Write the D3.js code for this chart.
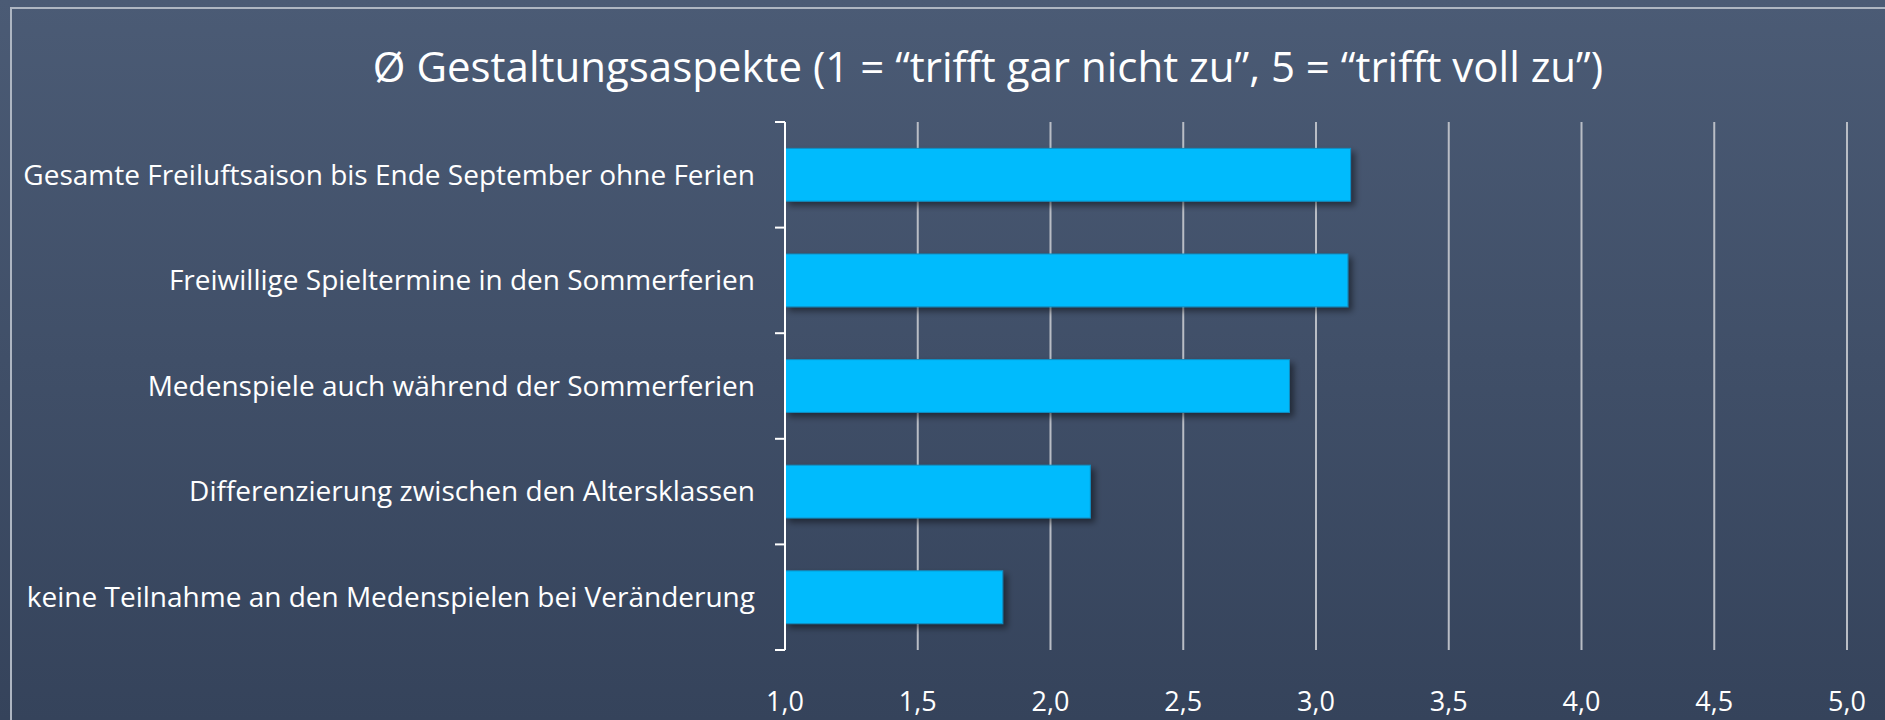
<!DOCTYPE html>
<html>
<head>
<meta charset="utf-8">
<script src="https://cdn.jsdelivr.net/npm/d3@7"></script>
<style>
  html, body { margin: 0; padding: 0; background: #3f4e66; }
  svg { display: block; }
  text { font-family: "Open Sans", "Noto Sans", sans-serif; fill: #ffffff; }
</style>
</head>
<body>
<div id="chart"></div>
<script>
// Data
const categories = [
    "Gesamte Freiluftsaison bis Ende September ohne Ferien",
    "Freiwillige Spieltermine in den Sommerferien",
    "Medenspiele auch während der Sommerferien",
    "Differenzierung zwischen den Altersklassen",
    "keine Teilnahme an den Medenspielen bei Veränderung"
];
const values = [3.13, 3.12, 2.90, 2.15, 1.82];
const xTicks = [1.0, 1.5, 2.0, 2.5, 3.0, 3.5, 4.0, 4.5, 5.0];
const title = "Ø Gestaltungsaspekte (1 = “trifft gar nicht zu”, 5 = “trifft voll zu”)";

const W = 1885, H = 720;
const plot = { left: 785, right: 1847, top: 122, bottom: 650 };

const svg = d3.select("#chart").append("svg")
    .attr("width", W)
    .attr("height", H);

const defs = svg.append("defs");
const grad = defs.append("linearGradient")
    .attr("id", "bg").attr("x1", 0).attr("y1", 0).attr("x2", 0).attr("y2", 1);
grad.append("stop").attr("offset", "0%").attr("stop-color", "#4b5b75");
grad.append("stop").attr("offset", "100%").attr("stop-color", "#35435b");

const shadow = defs.append("filter").attr("id", "shadow")
    .attr("x", "-5%").attr("y", "-20%").attr("width", "115%").attr("height", "160%");
shadow.append("feDropShadow")
    .attr("dx", 4).attr("dy", 4).attr("stdDeviation", 3)
    .attr("flood-color", "#000").attr("flood-opacity", 0.45);

// background + frame
svg.append("rect").attr("width", W).attr("height", H).attr("fill", "url(#bg)");
svg.append("rect")
    .attr("x", 11).attr("y", 8).attr("width", W).attr("height", H)
    .attr("fill", "none").attr("stroke", "#aeb6c2").attr("stroke-width", 2);

// Scales
const x = d3.scaleLinear().domain([1, 5]).range([plot.left, plot.right]);
const y = d3.scaleBand()
    .domain(categories)
    .range([plot.top, plot.bottom])
    .paddingInner(0.5)
    .paddingOuter(0.25);

// Gridlines
svg.append("g")
    .selectAll("line")
    .data(xTicks.slice(1))
    .join("line")
    .attr("x1", d => x(d)).attr("x2", d => x(d))
    .attr("y1", plot.top).attr("y2", plot.bottom)
    .attr("stroke", "#b9bdc5").attr("stroke-width", 2);

// Bars
svg.append("g")
    .selectAll("rect")
    .data(values)
    .join("rect")
    .attr("x", x(1))
    .attr("y", (d, i) => y(categories[i]))
    .attr("width", d => x(d) - x(1))
    .attr("height", y.bandwidth())
    .attr("fill", "#05bbfd")
    .attr("stroke", "#0d8fc4")
    .attr("stroke-width", 1)
    .attr("filter", "url(#shadow)");

// Y axis line with ticks between categories
const step = y.step();
const bounds = d3.range(categories.length + 1).map(i => plot.top + i * step);
const yAxis = svg.append("g");
yAxis.append("line")
    .attr("x1", plot.left).attr("x2", plot.left)
    .attr("y1", plot.top).attr("y2", plot.bottom)
    .attr("stroke", "#ffffff").attr("stroke-width", 2);
yAxis.selectAll("line.tick")
    .data(bounds)
    .join("line")
    .attr("class", "tick")
    .attr("x1", plot.left - 10).attr("x2", plot.left)
    .attr("y1", d => d).attr("y2", d => d)
    .attr("stroke", "#ffffff").attr("stroke-width", 2);

// Category labels
svg.append("g")
    .selectAll("text")
    .data(categories)
    .join("text")
    .attr("x", plot.left - 30)
    .attr("y", d => y(d) + y.bandwidth() / 2)
    .attr("dy", "0.35em")
    .attr("text-anchor", "end")
    .style("font-size", "28px")
    .text(d => d);

// X tick labels
const fmt = d => d3.format(".1f")(d).replace(".", ",");
svg.append("g")
    .selectAll("text")
    .data(xTicks)
    .join("text")
    .attr("x", d => x(d))
    .attr("y", 711)
    .attr("text-anchor", "middle")
    .style("font-size", "27px")
    .text(fmt);

// Title
svg.append("text")
    .attr("x", 988)
    .attr("y", 82)
    .attr("text-anchor", "middle")
    .style("font-size", "42px")
    .text(title);
</script>
</body>
</html>
